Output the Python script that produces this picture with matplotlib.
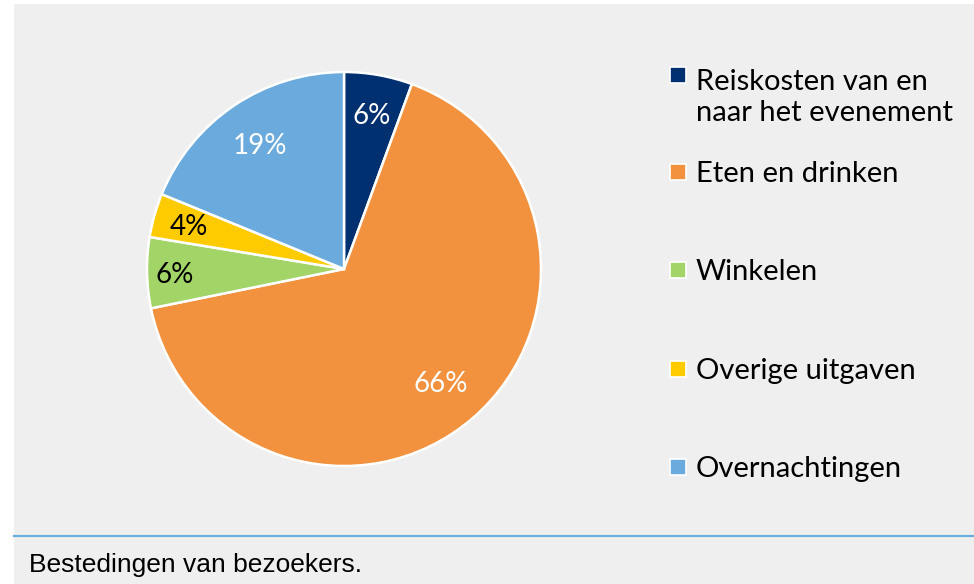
import numpy as np
import matplotlib.pyplot as plt
from matplotlib.patches import Rectangle
from matplotlib.lines import Line2D

categories = ['Reiskosten van en\nnaar het evenement', 'Eten en drinken', 'Winkelen',
              'Overige uitgaven', 'Overnachtingen']
values = [5.6, 66.2, 5.8, 3.6, 18.8]
pct_labels = ['6%', '66%', '6%', '4%', '19%']
colors = ['#00306f', '#f2923f', '#a2d468', '#fecb00', '#6aaadc']
label_colors = ['white', 'white', 'black', 'black', 'white']

W, H = 974, 584
fig = plt.figure(figsize=(W / 100, H / 100), dpi=100)
fig.patch.set_facecolor('white')

# grey panel + blue rule above the caption
fig.add_artist(Rectangle((14 / W, 0), 1 - 14 / W, 1 - 4 / H, transform=fig.transFigure,
                         facecolor='#efefef', edgecolor='none', zorder=0))
fig.add_artist(Line2D([14 / W, 1], [1 - 536 / H, 1 - 536 / H], transform=fig.transFigure,
                      color='#6aaee0', lw=1.6, zorder=1))

cx, cy, r = 344, 269, 197
ax = fig.add_axes([(cx - r) / W, (H - cy - r) / H, 2 * r / W, 2 * r / H])
ax.set_facecolor('none')
wedges, texts = ax.pie(values, colors=colors, startangle=90, counterclock=False,
                       wedgeprops=dict(edgecolor='white', linewidth=1.8))
ax.set_xlim(-1, 1)
ax.set_ylim(-1, 1)
ax.set_aspect('equal')
ax.axis('off')

dists = [0.80, 0.75, 0.86, 0.82, 0.77]
for w, lab, c, d in zip(wedges, pct_labels, label_colors, dists):
    ang = np.deg2rad((w.theta1 + w.theta2) / 2)
    ax.text(d * np.cos(ang), d * np.sin(ang), lab, color=c, fontsize=20,
            family='Lato', ha='center', va='center_baseline')

# legend
baselines = [85, 182, 280, 379, 477]
for lab, col, yb in zip(categories, colors, baselines):
    fig.add_artist(Rectangle((670 / W, 1 - (yb - 2) / H), 16 / W, 16 / H,
                             transform=fig.transFigure, facecolor=col,
                             edgecolor='white', lw=1.2, zorder=2))
    n = lab.count('\n')
    fig.text(696 / W, 1 - (yb + 36 * n) / H, lab, fontsize=21, family='Lato',
             va='baseline', ha='left', linespacing=1.22)

fig.text(29 / W, 1 - 572 / H, 'Bestedingen van bezoekers.', fontsize=19,
         family='Liberation Sans', va='baseline', ha='left')

fig.savefig('out.png', dpi=100)
